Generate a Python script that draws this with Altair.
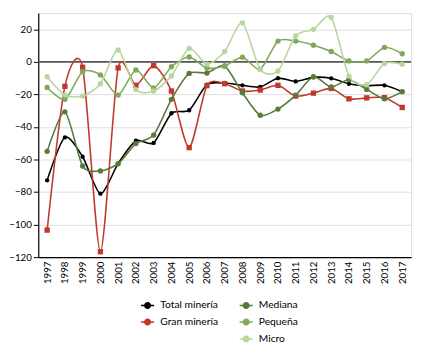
import altair as alt
import pandas as pd

years = [str(y) for y in range(1997, 2018)]

total = [-72.8, -46.4, -58.3, -81.0, -62.5, -48.5, -49.8, -31.6, -29.7, -14.0, -13.0,
         -14.4, -15.4, -10.0, -12.0, -9.5, -10.1, -13.4, -14.6, -14.4, -18.3]
gran = [-103.4, -15.0, -3.3, -116.7, -3.7, -14.4, -2.3, -17.9, -52.7, -14.6, -13.4,
        -17.9, -17.3, -14.4, -21.0, -19.2, -16.3, -22.7, -22.1, -22.0, -28.0]
mediana = [-55.0, -30.7, -64.0, -67.0, -62.6, -50.2, -45.0, -23.0, -7.1, -6.8, -2.5,
           -19.0, -32.8, -29.0, -20.4, -9.1, -15.4, -11.0, -16.9, -22.7, -18.3]
pequena = [-15.7, -23.0, -6.0, -8.0, -20.4, -5.0, -16.0, -3.0, 3.0, -3.7, -2.5,
           2.9, -4.5, 12.8, 12.8, 10.3, 6.4, 0.6, 0.6, 8.9, 5.0]
micro = [-9.1, -20.4, -21.0, -13.4, 7.3, -17.0, -17.9, -8.6, 8.3, -1.4, 6.4,
         24.0, -4.7, -5.6, 16.0, 20.0, 27.4, -8.7, -14.0, -1.0, -1.4]

series_names = ["Total minería", "Gran minería", "Mediana", "Pequeña", "Micro"]
series_values = [total, gran, mediana, pequena, micro]
series_shapes = ["circle", "square", "circle", "circle", "circle"]
series_sizes = [20, 30, 30, 30, 30]

y_ticks = [-120, -100, -80, -60, -40, -20, 0, 20]

rows = []
for name, vals in zip(series_names, series_values):
    for yr, v in zip(years, vals):
        rows.append({"Año": yr, "Serie": name, "Valor": v})
df = pd.DataFrame(rows)

# legend fills column by column: a blank slot keeps Mediana/Pequeña/Micro in column 2
legend_domain = ["Total minería", "Gran minería", " ", "Mediana", "Pequeña", "Micro"]
legend_range = ["#000000", "#c0392b", "transparent", "#587a3a", "#7fa958", "#b9d69f"]

FONT = "Lato"
W, H = 382, 250

x_enc = alt.X("Año:O", sort=years,
              scale=alt.Scale(domain=years, type="point", padding=0.5),
              axis=alt.Axis(title=None, labelAngle=270, labelFontSize=10, ticks=False,
                            labelPadding=4, domainColor="#000000", domainWidth=1.2,
                            grid=False, labelFont=FONT, labelColor="#000000"))
y_axis = alt.Axis(title=None, values=y_ticks, labelFontSize=10, tickSize=5,
                  tickColor="#000000", domainColor="#000000", domainWidth=1.2,
                  gridColor="#dedede", gridWidth=1, labelPadding=2, labelOverlap=False,
                  labelFont=FONT, labelColor="#000000")
y_scale = alt.Scale(domain=[-120, 30], nice=False, zero=False)
y_enc = alt.Y("Valor:Q", scale=y_scale, axis=y_axis)

legend = alt.Legend(
    title=None, orient="none", legendX=104, legendY=H + 41, columns=2,
    columnPadding=18, rowPadding=2.5, labelFontSize=10.5, labelFont=FONT,
    labelColor="#000000", labelOffset=5, padding=0,
    symbolType="M-1,0L-0.42,0M0.42,0L1,0M0.42,0A0.42,0.42,0,1,1,-0.42,0A0.42,0.42,0,1,1,0.42,0",
    symbolSize=180, symbolStrokeWidth=1.6,
)

stroke_enc = alt.Stroke("Serie:N", scale=alt.Scale(domain=legend_domain, range=legend_range),
                        legend=legend)
fill_enc = alt.Fill("Serie:N", scale=alt.Scale(domain=legend_domain, range=legend_range),
                    legend=legend)

base = alt.Chart(df)

zero_rule = base.transform_filter(alt.datum.Año == years[0]).transform_filter(
    alt.datum.Serie == series_names[0]
).transform_calculate(cero="0").mark_rule(color="#5a5a5a", strokeWidth=1.6).encode(
    y=alt.Y("cero:Q", scale=y_scale, axis=y_axis))

layers = [zero_rule]
for name, shape, size in zip(series_names, series_shapes, series_sizes):
    sub = base.transform_filter(alt.datum.Serie == name)
    line = sub.mark_line(interpolate="cardinal", tension=0.25, strokeWidth=1.6).encode(
        x=x_enc, y=y_enc, stroke=stroke_enc)
    pts = sub.mark_point(filled=True, shape=shape, size=size, opacity=1,
                         strokeWidth=0).encode(
        x=x_enc, y=y_enc, fill=fill_enc)
    layers += [line, pts]

chart = alt.layer(*layers).properties(
    width=W, height=H,
    padding={"left": 0, "top": 0, "right": 3, "bottom": 2},
).configure_view(
    stroke="#a0a0a0", strokeWidth=1
).configure(background="white")

chart.save("out.html", embed_options={"renderer": "svg", "actions": False})
